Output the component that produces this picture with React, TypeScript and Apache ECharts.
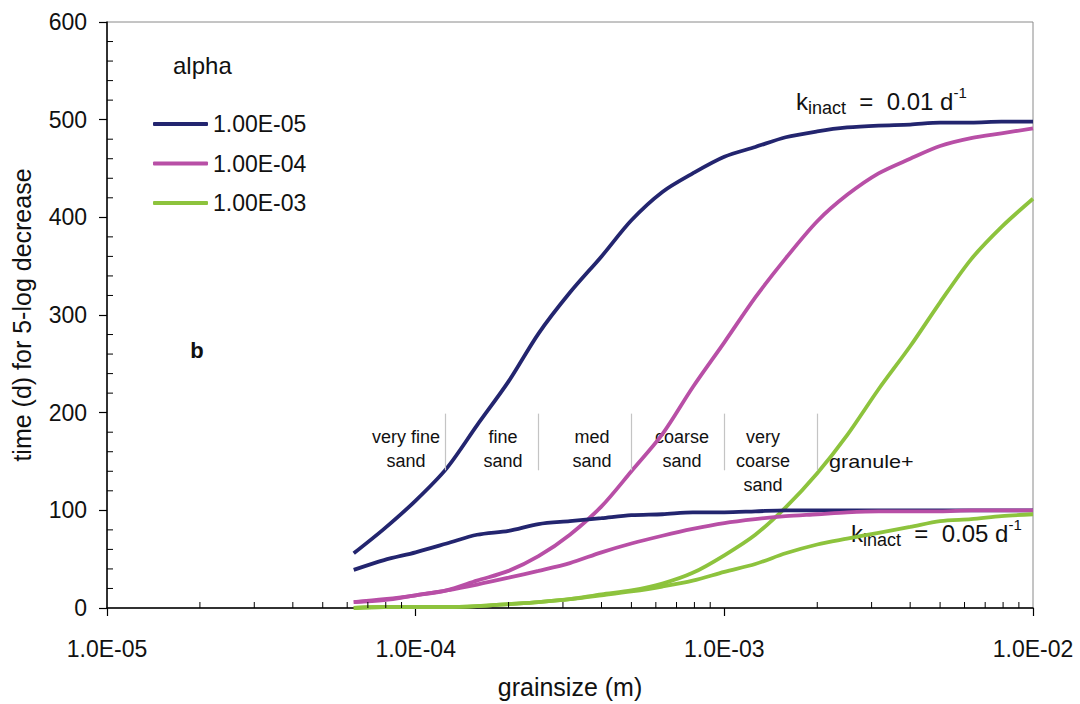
import React, { useEffect, useRef } from 'react';
import * as echarts from 'echarts';

// grainsize (m), log-spaced
const grainsize = [
  6.3e-5, 7.9e-5, 1.0e-4, 1.26e-4, 1.58e-4, 2.0e-4, 2.5e-4, 3.16e-4, 4.0e-4, 5.0e-4, 6.3e-4, 7.9e-4,
  1.0e-3, 1.26e-3, 1.58e-3, 2.0e-3, 2.5e-3, 3.16e-3, 4.0e-3, 5.0e-3, 6.3e-3, 7.9e-3, 1.0e-2,
];

// kinact = 0.01 d-1
const k001_a1e5 = [56, 81, 110, 143, 187, 232, 281, 323, 360, 397, 426, 445, 462, 472, 482, 488, 492, 494, 495, 497, 497, 498, 498];
const k001_a1e4 = [6, 9, 13, 18, 28, 38, 53, 75, 104, 140, 178, 226, 272, 318, 358, 396, 423, 445, 460, 473, 481, 486, 491];
const k001_a1e3 = [0, 1, 1, 1, 2, 4, 6, 9, 14, 18, 25, 36, 54, 75, 103, 138, 177, 224, 268, 313, 357, 390, 419];

// kinact = 0.05 d-1
const k005_a1e5 = [39, 49, 57, 66, 75, 79, 86, 89, 92, 95, 96, 98, 98, 99, 100, 100, 100, 100, 100, 100, 100, 100, 100];
const k005_a1e4 = [6, 8, 13, 18, 24, 31, 38, 46, 57, 66, 74, 81, 87, 91, 94, 96, 98, 99, 99, 99, 100, 100, 100];
const k005_a1e3 = [0, 1, 1, 1, 2, 4, 6, 9, 13, 17, 22, 28, 37, 45, 56, 65, 71, 77, 83, 89, 91, 94, 96];

const alphaNames = ['1.00E-05', '1.00E-04', '1.00E-03'];
const colors = ['#23256f', '#b84fa6', '#8dc33d'];

// sand class boundaries (m) and separator extent (y values)
const sandBounds = [1.25e-4, 2.5e-4, 5e-4, 1e-3, 2e-3];
const sandSepRange = [141, 199];

// minor tick positions
const decades = [1e-5, 1e-4, 1e-3];
const minorMult = [2, 3, 4, 5, 6, 7, 8, 9];
const xMinorTicks: number[] = [];
decades.forEach((d) => minorMult.forEach((m) => xMinorTicks.push(d * m)));
const yMinorTicks: number[] = [];
for (let v = 20; v < 600; v += 20) if (v % 100 !== 0) yMinorTicks.push(v);

const FONT = '"Liberation Sans", Arial, sans-serif';

function fmtX(v: number) {
  const e = Math.round(Math.log10(v));
  return '1.0E' + (e < 0 ? '-' : '+') + String(Math.abs(e)).padStart(2, '0');
}

function kLabel(x: number, y: number, val: string) {
  return {
    type: 'text',
    x,
    y,
    style: {
      text: `{m|k}{s|inact}{m|  =  ${val} d}{p|-1}`,
      font: `24px ${FONT}`,
      verticalAlign: 'middle',
      fill: '#111',
      rich: {
        m: { font: `24px ${FONT}`, fontSize: 24, fontFamily: FONT, lineHeight: 32, verticalAlign: 'middle', fill: '#111' },
        s: { font: `18px ${FONT}`, fontSize: 18, fontFamily: FONT, verticalAlign: 'bottom', fill: '#111' },
        p: { font: `15px ${FONT}`, fontSize: 15, fontFamily: FONT, verticalAlign: 'top', fill: '#111' },
      },
    },
  };
}

export default function App() {
  const ref = useRef<HTMLDivElement>(null);
  useEffect(() => {
    if (!ref.current) return;
    const chart = echarts.init(ref.current, undefined, { renderer: 'svg' });

    const mk = (name: string, vals: number[], color: string, extra: any = {}) => ({
      name,
      type: 'line',
      data: grainsize.map((x, i) => [x, vals[i]]),
      symbol: 'none',
      smooth: 0.3,
      lineStyle: { color, width: 3.8 },
      itemStyle: { color },
      z: 3,
      ...extra,
    });

    chart.setOption({
      animation: false,
      textStyle: { fontFamily: FONT },
      grid: {
        left: 107,
        right: 47,
        top: 22,
        bottom: 94,
        show: true,
        borderColor: '#8a8a8a',
        borderWidth: 1,
      },
      legend: {
        data: alphaNames,
        orient: 'vertical',
        left: 148,
        top: 107,
        icon: 'roundRect',
        itemWidth: 55,
        itemHeight: 4,
        itemGap: 15.5,
        textStyle: { fontSize: 23, color: '#111', fontFamily: FONT, lineHeight: 24 },
        selectedMode: false,
      },
      xAxis: {
        type: 'log',
        logBase: 10,
        min: 1e-5,
        max: 1e-2,
        name: 'grainsize (m)',
        nameLocation: 'middle',
        nameGap: 66,
        nameTextStyle: { fontSize: 25, color: '#111', fontFamily: FONT },
        axisLine: { lineStyle: { color: '#000', width: 1.5 } },
        axisTick: { show: true, length: 8, lineStyle: { color: '#000', width: 1.2 } },
        axisLabel: { formatter: fmtX, fontSize: 23, color: '#111', margin: 29, fontFamily: FONT },
        splitLine: { show: false },
      },
      yAxis: {
        type: 'value',
        min: 0,
        max: 600,
        interval: 100,
        name: 'time (d) for 5-log decrease',
        nameLocation: 'middle',
        nameGap: 73,
        nameTextStyle: { fontSize: 25, color: '#111', fontFamily: FONT },
        axisLine: { show: true, lineStyle: { color: '#000', width: 1.5 } },
        axisTick: { show: true, length: 8, lineStyle: { color: '#000', width: 1.2 } },
        axisLabel: { fontSize: 23, color: '#111', margin: 20, fontFamily: FONT },
        splitLine: { show: false },
      },
      series: [
        mk(alphaNames[0], k001_a1e5, colors[0]),
        mk(alphaNames[1], k001_a1e4, colors[1]),
        mk(alphaNames[2], k001_a1e3, colors[2]),
        mk(alphaNames[0], k005_a1e5, colors[0], {
          markLine: {
            silent: true,
            symbol: 'none',
            label: { show: false },
            lineStyle: { color: '#c4c4c4', width: 1.2, type: 'solid' },
            data: sandBounds.map((x) => [
              { coord: [x, sandSepRange[0]] },
              { coord: [x, sandSepRange[1]] },
            ]),
          },
        }),
        mk(alphaNames[1], k005_a1e4, colors[1]),
        mk(alphaNames[2], k005_a1e3, colors[2]),
        {
          name: '_xMinorTicks',
          type: 'custom',
          data: xMinorTicks.map((x) => [x, 0]),
          encode: { x: 0, y: 1 },
          clip: false,
          silent: true,
          z: 10,
          renderItem: (_p: any, api: any) => {
            const pt = api.coord([api.value(0), api.value(1)]);
            return {
              type: 'line',
              shape: { x1: pt[0], y1: pt[1], x2: pt[0], y2: pt[1] - 6 },
              style: { stroke: '#000', lineWidth: 1 },
            };
          },
        },
        {
          name: '_yMinorTicks',
          type: 'custom',
          data: yMinorTicks.map((v) => [1e-5, v]),
          encode: { x: 0, y: 1 },
          clip: false,
          silent: true,
          z: 10,
          renderItem: (_p: any, api: any) => {
            const pt = api.coord([api.value(0), api.value(1)]);
            return {
              type: 'line',
              shape: { x1: pt[0], y1: pt[1], x2: pt[0] + 6, y2: pt[1] },
              style: { stroke: '#000', lineWidth: 1 },
            };
          },
        },
      ],
      graphic: [
        {
          type: 'text',
          left: 173,
          top: 53,
          style: { text: 'alpha', font: `24px ${FONT}`, fill: '#111' },
        },
        {
          type: 'text',
          x: 197,
          y: 350,
          style: { text: 'b', font: `bold 22px ${FONT}`, fill: '#111', align: 'center', verticalAlign: 'middle' },
        },
        kLabel(796, 101, '0.01'),
        kLabel(851, 533, '0.05'),
        ...[
          { t: 'very fine\nsand', x: 406 },
          { t: 'fine\nsand', x: 503 },
          { t: 'med\nsand', x: 592 },
          { t: 'coarse\nsand', x: 682 },
          { t: 'very\ncoarse\nsand', x: 763 },
        ].map((d) => ({
          type: 'text',
          x: d.x,
          y: 425,
          style: {
            text: d.t,
            font: `18px ${FONT}`,
            lineHeight: 24,
            fill: '#111',
            align: 'center',
            verticalAlign: 'top',
          },
        })),
        {
          type: 'text',
          x: 829,
          y: 450,
          scaleX: 1.2,
          style: { text: 'granule+', font: `18px ${FONT}`, lineHeight: 24, fill: '#111', align: 'left', verticalAlign: 'top' },
        },
      ],
    });
    return () => chart.dispose();
  }, []);

  return (
    <div
      ref={ref}
      style={{ position: 'fixed', left: 0, top: 0, width: 1080, height: 704, background: '#fff' }}
    />
  );
}
